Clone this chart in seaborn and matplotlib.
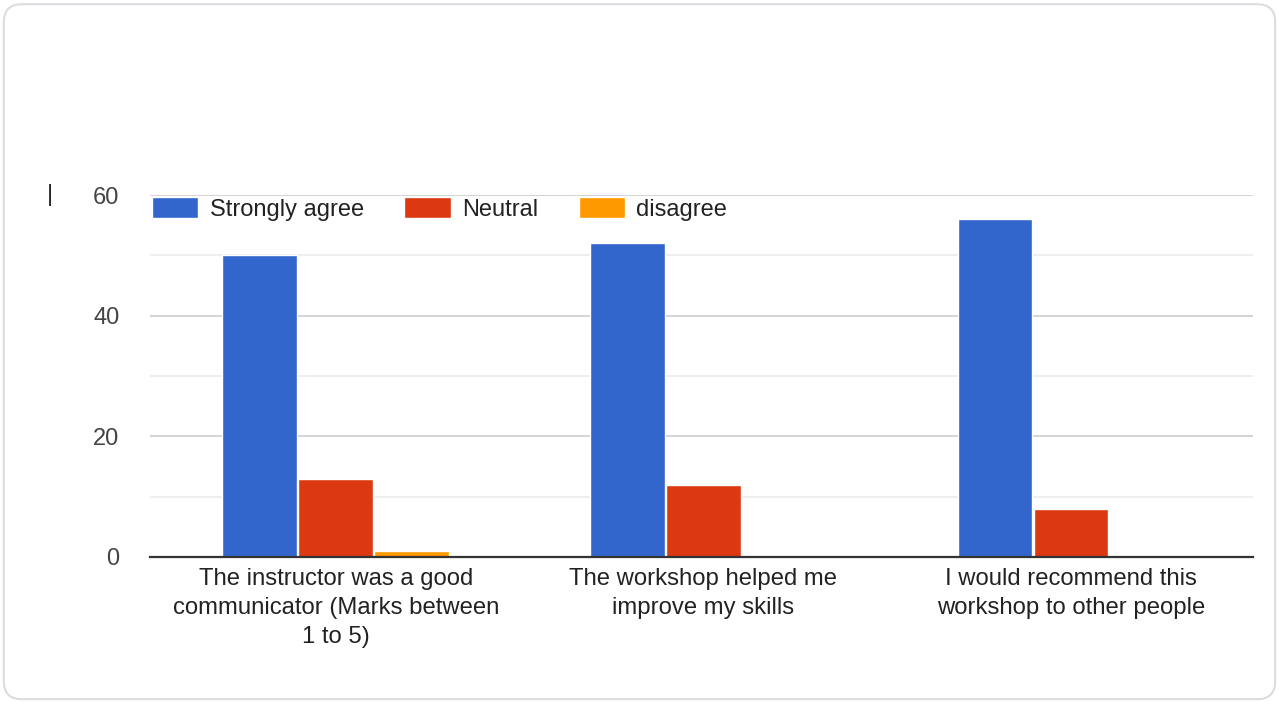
import pandas as pd
import matplotlib.pyplot as plt
import seaborn as sns
from matplotlib.patches import FancyBboxPatch
from matplotlib.ticker import MultipleLocator

preguntas = ["The instructor was a good\ncommunicator (Marks between\n1 to 5)",
             "The workshop helped me\nimprove my skills",
             "I would recommend this\nworkshop to other people"]
respuestas = ["Strongly agree", "Neutral", "disagree"]
strongly_agree = [50, 52, 56]
neutral = [13, 12, 8]
disagree = [1, 0, 0]
colores = ["#3366CC", "#DC3912", "#FF9900"]

# tabla larga para seaborn
df = pd.DataFrame({
    "pregunta": preguntas * 3,
    "respuesta": [r for r in respuestas for _ in preguntas],
    "valor": strongly_agree + neutral + disagree,
})

sns.set_style("white")
plt.rcParams['font.family'] = ['Liberation Sans', 'DejaVu Sans']

fig = plt.figure(figsize=(12.79, 7.02), dpi=100)
# marco redondeado
marco = FancyBboxPatch((0.003, 0.004), 0.994, 0.99, boxstyle="round,pad=0,rounding_size=0.014",
                       transform=fig.transFigure, facecolor="white", edgecolor="#dadce0",
                       linewidth=1.5, mutation_aspect=1279 / 702, zorder=-10)
fig.patches.append(marco)
ax = fig.add_axes([0.1173, 0.2066, 0.8624, 0.5156])
ax.set_facecolor("none")
ax.set_zorder(2)

sns.barplot(data=df, x="pregunta", y="valor", hue="respuesta", palette=colores,
            width=0.62, gap=0.02, saturation=1, ax=ax, zorder=3)

ax.set_ylim(0, 60)
ax.set_xlim(-0.505, 2.495)
ax.yaxis.set_major_locator(MultipleLocator(20))
ax.yaxis.set_minor_locator(MultipleLocator(10))
ax.grid(axis="y", which="major", color="#cccccc", linewidth=1.2, zorder=0)
ax.grid(axis="y", which="minor", color="#ebebeb", linewidth=1.2, zorder=0)
ax.set_axisbelow(True)
for s in ["top", "right", "left"]:
    ax.spines[s].set_visible(False)
ax.spines["bottom"].set_color("#333333")
ax.spines["bottom"].set_linewidth(1.6)
ax.spines["bottom"].set_zorder(4)
ax.tick_params(axis="y", which="both", length=0, pad=22, labelsize=17, labelcolor="#444444")
ax.tick_params(axis="x", length=0, pad=8, labelsize=17.2, labelcolor="#222222")
for t in ax.get_xticklabels():
    t.set_linespacing(1.42)
ax.set_xlabel("")
ax.set_ylabel("")

ax.legend(loc="upper left", bbox_to_anchor=(0.0, 1.0), ncol=3, frameon=False, fontsize=17,
          borderaxespad=0, borderpad=0.1, handlelength=1.95, handleheight=0.95,
          handletextpad=0.5, columnspacing=1.7, labelcolor="#222222")

fig.text(0.039, 0.722, "|", fontsize=17, color="#222222", ha="center", va="center")

fig.savefig("out.png", dpi=100)
